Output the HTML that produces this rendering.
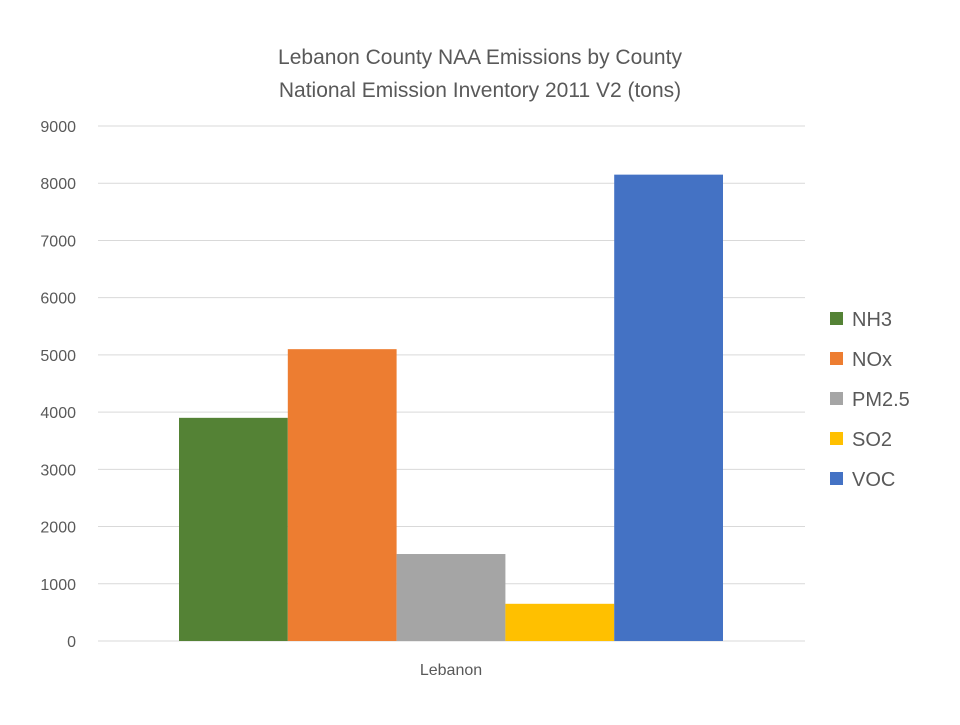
<!DOCTYPE html>
<html><head><meta charset="utf-8"><style>
body{margin:0;background:#fff;font-family:"Liberation Sans",sans-serif;}
svg text{font-family:"Liberation Sans",sans-serif;fill:#595959;}
</style></head><body>
<svg id="chart" width="960" height="720" viewBox="0 0 960 720">
<text x="480" y="64" text-anchor="middle" font-size="21">Lebanon County NAA Emissions by County</text>
<text x="480" y="97" text-anchor="middle" font-size="21">National Emission Inventory 2011 V2 (tons)</text>
<g id="grid"></g><g id="bars"></g><g id="legend"></g>
<text x="451" y="675" text-anchor="middle" font-size="16">Lebanon</text>
</svg>
<script>
const series = ["NH3","NOx","PM2.5","SO2","VOC"];
const values = [3900,5100,1520,650,8150];
const colors = ["#548235","#ED7D31","#A5A5A5","#FFC000","#4472C4"];
const ticks = [0,1000,2000,3000,4000,5000,6000,7000,8000,9000];
const NS="http://www.w3.org/2000/svg";
const x0=98,x1=805,yBase=641,yTop=126,maxV=9000;
const y=v=>yBase-(v/maxV)*(yBase-yTop);
function mk(t,a,p){const e=document.createElementNS(NS,t);for(const k in a)e.setAttribute(k,a[k]);p.appendChild(e);return e;}
const grid=document.getElementById('grid');
ticks.forEach(t=>{
 const l=mk('line',{x1:x0,x2:x1,y1:y(t),y2:y(t),stroke:'#d9d9d9','stroke-width':1},grid);
 
 
 const tx=mk('text',{x:76,y:y(t)+6,'text-anchor':'end','font-size':16},grid);
 tx.textContent=t;
 
 
});
const bars=document.getElementById('bars');
const bw=108.8,bx0=179;
values.forEach((v,i)=>{
 const r=mk('rect',{x:bx0+i*bw,y:y(v),width:bw,height:yBase-y(v),fill:colors[i]},bars);
 
 
});
const lg=document.getElementById('legend');
series.forEach((s,i)=>{
 const yy=318+i*40;
 const g=mk('g',{},lg);
 
 
 mk('rect',{x:830,y:yy-6,width:13,height:13,fill:colors[i]},g);
 const t=mk('text',{x:852,y:yy+8,'font-size':20},g);
 t.textContent=s;
});
</script>
</body></html>
